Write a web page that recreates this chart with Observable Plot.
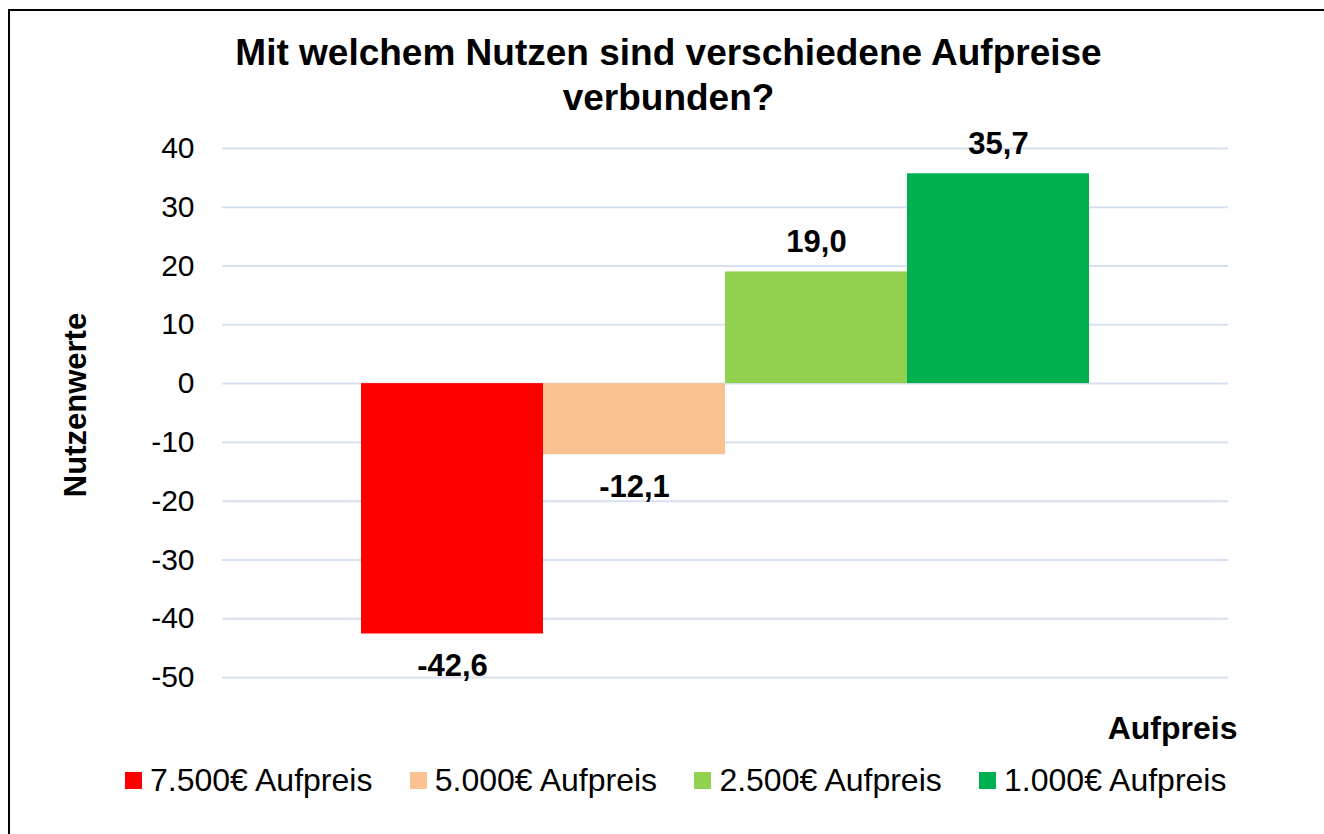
<!DOCTYPE html>
<html>
<head>
<meta charset="utf-8">
<script src="https://cdn.jsdelivr.net/npm/d3@7"></script>
<script src="https://cdn.jsdelivr.net/npm/@observablehq/plot@0.6"></script>
<style>
  html, body { margin: 0; padding: 0; background: #fff; }
  #wrap { position: relative; width: 1324px; height: 834px; overflow: hidden; font-family: "Liberation Sans", Arial, sans-serif; color: #000; }
  #frame { position: absolute; left: 8px; top: 9px; width: 1400px; height: 900px; border-left: 2px solid #000; border-top: 2px solid #000; }
  #title { position: absolute; left: 0; top: 30px; width: 1337px; text-align: center; font-size: 37px; font-weight: bold; line-height: 45px; }
  #ytitle { position: absolute; left: 75px; top: 405px; transform: translate(-50%, -50%) rotate(-90deg); font-size: 31px; font-weight: bold; white-space: nowrap; line-height: 1; }
  #chart { position: absolute; left: 0; top: 120px; }
  #legend { position: absolute; left: 125px; top: 761px; display: flex; font-size: 32px; line-height: 38px; }
  .item { width: 284.7px; display: flex; align-items: center; }
  .sw { width: 17px; height: 17px; margin-right: 8px; flex: none; }
</style>
</head>
<body>
<div id="wrap">
  <div id="frame"></div>
  <div id="title">Mit welchem Nutzen sind verschiedene Aufpreise<br>verbunden?</div>
  <div id="ytitle"></div>
  <div id="chart"></div>
  <div id="legend"></div>
</div>
<script>
const series = ["7.500€ Aufpreis", "5.000€ Aufpreis", "2.500€ Aufpreis", "1.000€ Aufpreis"];
const values = [-42.6, -12.1, 19.0, 35.7];
const colors = ["#FF0000", "#F9C290", "#92D050", "#00B050"];
const yTicks = [40, 30, 20, 10, 0, -10, -20, -30, -40, -50];
const yTitle = "Nutzenwerte";
const xTitle = "Aufpreis";

const data = series.map((s, i) => ({series: s, value: values[i]}));
const fmt = v => d3.format(".1f")(v).replace(".", ",").replace("−", "-");

document.getElementById("ytitle").textContent = yTitle;

const labelStyle = {x: "series", y: "value", text: d => fmt(d.value), fontWeight: "bold", fontSize: 31, fill: "#000", lineAnchor: "middle"};

const plot = Plot.plot({
  width: 1324,
  height: 640,
  marginTop: 28,
  marginBottom: 83,
  marginLeft: 222,
  marginRight: 96,
  style: {fontFamily: '"Liberation Sans", Arial, sans-serif', fontSize: "30px", color: "#000", background: "transparent"},
  x: {domain: series, paddingInner: 0, paddingOuter: 0.752, axis: null},
  y: {domain: [-50, 40], ticks: yTicks, tickSize: 0, tickPadding: 28, tickFormat: d => `${d}`, label: null},
  color: {domain: series, range: colors},
  marks: [
    Plot.ruleY(yTicks, {stroke: "#D6E0F1", strokeWidth: 2}),
    Plot.barY(data, {x: "series", y: "value", fill: "series"}),
    Plot.text(data.filter(d => d.value >= 0), {...labelStyle, dy: -30}),
    Plot.text(data.filter(d => d.value < 0), {...labelStyle, dy: 32}),
    Plot.text([xTitle], {frameAnchor: "bottom-right", textAnchor: "end", dx: 9, dy: 51, fontWeight: "bold", fontSize: 32, fill: "#000", lineAnchor: "middle"})
  ]
});
document.getElementById("chart").appendChild(plot);

const legend = document.getElementById("legend");
series.forEach((s, i) => {
  const it = document.createElement("div");
  it.className = "item";
  const sw = document.createElement("span");
  sw.className = "sw";
  sw.style.background = colors[i];
  const tx = document.createElement("span");
  tx.textContent = s;
  it.appendChild(sw); it.appendChild(tx);
  legend.appendChild(it);
});
</script>
</body>
</html>
